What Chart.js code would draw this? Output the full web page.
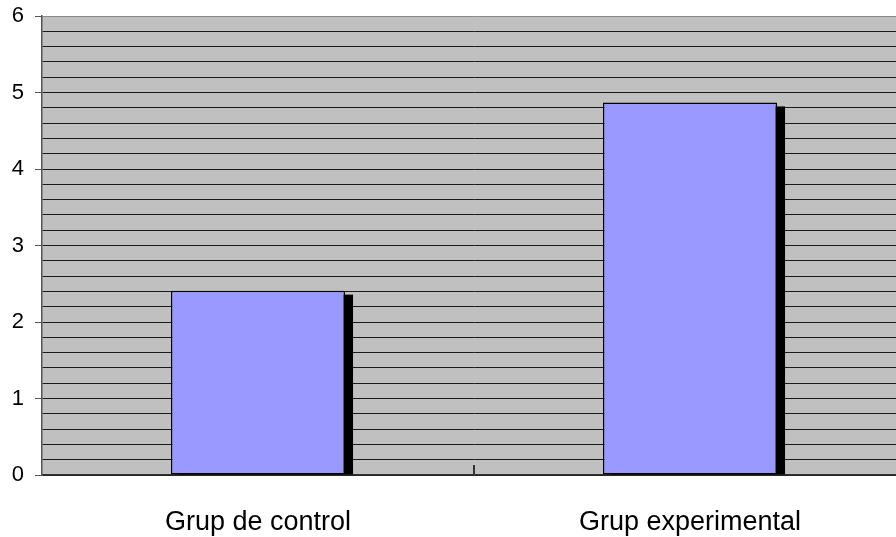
<!DOCTYPE html>
<html>
<head>
<meta charset="utf-8">
<script src="https://cdn.jsdelivr.net/npm/chart.js@4/dist/chart.umd.min.js"></script>
<style>
    html, body { margin: 0; padding: 0; background: #fff; overflow: hidden; }
    #wrap { width: 906px; height: 537px; position: relative; }
</style>
</head>
<body>
<div id="wrap"><canvas id="myChart"></canvas></div>
<script>
// Data
var categories = ['Grup de control', 'Grup experimental'];
var values = [2.41, 4.87];
var yTicks = [0, 1, 2, 3, 4, 5, 6];

var isWhole = function (v) {
    return Math.abs(v - Math.round(v)) < 1e-6;
};

// Gray plot area
var plotBackground = {
    id: 'plotBackground',
    beforeDraw: function (chart) {
        var a = chart.chartArea, ctx = chart.ctx;
        ctx.save();
        ctx.fillStyle = '#C0C0C0';
        ctx.fillRect(a.left, a.top, a.right - a.left, a.bottom - a.top);
        ctx.restore();
    }
};

// Black shadow behind every bar
var barShadow = {
    id: 'barShadow',
    beforeDatasetsDraw: function (chart) {
        var ctx = chart.ctx;
        ctx.save();
        ctx.fillStyle = '#000';
        chart.getDatasetMeta(0).data.forEach(function (bar) {
            var p = bar.getProps(['x', 'y', 'base', 'width'], true);
            ctx.fillRect(p.x - p.width / 2 + 8, p.y + 4, p.width, p.base - p.y - 4);
        });
        ctx.restore();
    }
};

// Inner tick mark between categories
var innerTicks = {
    id: 'innerTicks',
    afterDraw: function (chart) {
        var x = chart.scales.x, ctx = chart.ctx, bottom = chart.chartArea.bottom;
        ctx.save();
        ctx.strokeStyle = '#333';
        ctx.lineWidth = 2;
        for (var i = 0; i < categories.length - 1; i++) {
            var px = Math.round((x.getPixelForValue(i) + x.getPixelForValue(i + 1)) / 2);
            ctx.beginPath();
            ctx.moveTo(px, bottom - 10);
            ctx.lineTo(px, bottom);
            ctx.stroke();
        }
        ctx.restore();
    }
};

var ctx = document.getElementById('myChart').getContext('2d');
new Chart(ctx, {
    type: 'bar',
    data: {
        labels: categories,
        datasets: [{
            data: values,
            backgroundColor: '#9999FF',
            borderColor: '#000',
            borderWidth: 1.5,
            borderSkipped: false,
            categoryPercentage: 1,
            barPercentage: 0.403
        }]
    },
    options: {
        responsive: true,
        maintainAspectRatio: false,
        animation: false,
        layout: { padding: { top: 16, right: 0, left: 0, bottom: 0 } },
        plugins: {
            legend: { display: false },
            tooltip: { enabled: false }
        },
        scales: {
            x: {
                grid: { display: true, drawOnChartArea: false, drawTicks: false },
                border: { display: true, color: '#333', width: 1.5 },
                ticks: {
                    color: '#000',
                    font: { family: 'Liberation Sans, Arial, sans-serif', size: 27 },
                    padding: 31,
                    maxRotation: 0
                },
                afterFit: function (scale) { scale.height = 62; }
            },
            y: {
                min: yTicks[0],
                max: yTicks[yTicks.length - 1],
                grid: {
                    color: function (c) {
                        return c.tick && c.tick.value === 6 ? '#8a8a8a' : '#1a1a1a';
                    },
                    tickColor: function (c) {
                        return c.tick && isWhole(c.tick.value) ? '#555' : 'rgba(0,0,0,0)';
                    },
                    tickLength: 7,
                    lineWidth: 1
                },
                border: { display: true, color: '#555', width: 1.5 },
                ticks: {
                    stepSize: 0.2,
                    autoSkip: false,
                    color: '#000',
                    padding: 11,
                    font: { family: 'Liberation Sans, Arial, sans-serif', size: 22 },
                    callback: function (v) {
                        return isWhole(v) ? String(Math.round(v)) : '';
                    }
                },
                afterFit: function (scale) {
                    scale.width = 42;
                    scale.paddingTop = 0;
                    scale.paddingBottom = 0;
                }
            }
        }
    },
    plugins: [plotBackground, barShadow, innerTicks]
});
</script>
</body>
</html>
